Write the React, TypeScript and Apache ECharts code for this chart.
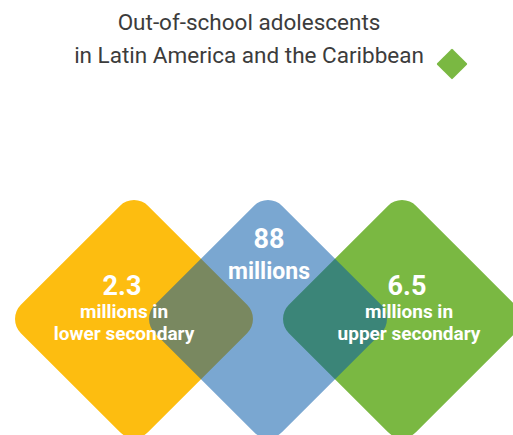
import React, { useEffect, useRef } from "react";
import * as echarts from "echarts";

const titleLines = ["Out-of-school adolescents", "in Latin America and the Caribbean"];
const categories = ["lower secondary", "total", "upper secondary"];
const values = [2.3, 88, 6.5];
const unitLines = [["millions in", "lower secondary"], ["millions"], ["millions in", "upper secondary"]];

const COLORS = ["#FDBD10", "rgb(4,88,168)", "#7AB842"];
const OPAC = [1, 0.53, 1];
const Z2 = [1, 3, 2];

export default function App() {
  const ref = useRef<HTMLDivElement>(null);
  useEffect(() => {
    if (!ref.current) return;
    const chart = echarts.init(ref.current, null, { renderer: "svg" });
    const side = 180;
    const option: any = {
      animation: false,
      backgroundColor: "#ffffff",
      title: {
        text: titleLines.join("\n"),
        left: 244,
        top: 0,
        textAlign: "center",
        textStyle: {
          fontFamily: "Roboto",
          fontWeight: "normal",
          fontSize: 22.5,
          lineHeight: 33,
          color: "#3c3c3c",
        },
      },
      graphic: [
        {
          type: "rect",
          x: 452,
          y: 64,
          rotation: Math.PI / 4,
          shape: { x: -11, y: -11, width: 22, height: 22, r: 1 },
          style: { fill: "#7AB842" },
        },
      ],
      grid: { left: 67, width: 402, top: 203, height: 232 },
      xAxis: { type: "category", data: categories, show: false, boundaryGap: true },
      yAxis: { type: "value", min: 0, max: 100, show: false },
      series: [
        {
          type: "custom",
          data: values.map((v, i) => [i, v]),
          renderItem: (params: any, api: any) => {
            const i = params.dataIndex;
            const pt = api.coord([api.value(0), 0]);
            const cs = params.coordSys;
            const cx = pt[0];
            const cy = cs.y + cs.height / 2;
            const children: any[] = [
              {
                type: "rect",
                x: cx,
                y: cy,
                rotation: Math.PI / 4,
                z2: Z2[i],
                shape: { x: -side / 2, y: -side / 2, width: side, height: side, r: 20 },
                style: { fill: COLORS[i], opacity: OPAC[i] },
              },
            ];
            const lines = unitLines[i];
            const textDx = i === 0 ? -10 : i === 2 ? 7 : 1;
            if (lines.length === 2) {
              children.push({
                type: "text",
                z2: 10,
                style: {
                  text: String(api.value(1)),
                  x: cx + textDx - 2,
                  y: cy - 33,
                  align: "center",
                  verticalAlign: "middle",
                  fontFamily: "Roboto",
                  fontWeight: "bold",
                  fontSize: 27,
                  fill: "#ffffff",
                },
              });
              lines.forEach((ln, k) => {
                children.push({
                  type: "text",
                  z2: 10,
                  style: {
                    text: ln,
                    x: cx + textDx,
                    y: cy - 8 + k * 22,
                    align: "center",
                    verticalAlign: "middle",
                    fontFamily: "Roboto",
                    fontWeight: "bold",
                    fontSize: 19,
                    fill: "#ffffff",
                  },
                });
              });
            } else {
              children.push({
                type: "text",
                z2: 10,
                style: {
                  text: String(api.value(1)),
                  x: cx + textDx,
                  y: cy - 80,
                  align: "center",
                  verticalAlign: "middle",
                  fontFamily: "Roboto",
                  fontWeight: "bold",
                  fontSize: 27,
                  fill: "#ffffff",
                },
              });
              children.push({
                type: "text",
                z2: 10,
                style: {
                  text: lines[0],
                  x: cx + textDx,
                  y: cy - 48,
                  align: "center",
                  verticalAlign: "middle",
                  fontFamily: "Roboto",
                  fontWeight: "bold",
                  fontSize: 23,
                  fill: "#ffffff",
                },
              });
            }
            return { type: "group", children };
          },
        },
      ],
    };
    chart.setOption(option);
    return () => chart.dispose();
  }, []);
  return (
    <div
      ref={ref}
      style={{ position: "fixed", left: 0, top: 0, width: 513, height: 435 }}
    />
  );
}
